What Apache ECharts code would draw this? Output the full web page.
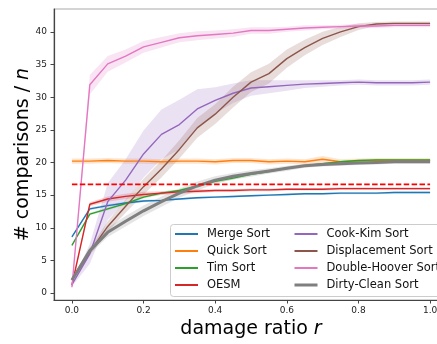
<!DOCTYPE html>
<html><head><meta charset="utf-8">
<script src="https://cdn.jsdelivr.net/npm/echarts@6/dist/echarts.min.js"></script>
<style>html,body{margin:0;padding:0;background:#fff;overflow:hidden;width:437px;height:344px}#c{width:450px;height:344px}</style>
</head><body><div id="c"></div>
<script>
const ratios = [0, 0.05, 0.1, 0.15, 0.2, 0.25, 0.3, 0.35, 0.4, 0.45, 0.5, 0.55, 0.6, 0.65, 0.7, 0.75, 0.8, 0.85, 0.9, 0.95, 1.0];

const mergeSort       = [8.6, 12.9, 13.4, 13.8, 14.1, 14.2, 14.4, 14.6, 14.7, 14.8, 14.9, 15.0, 15.1, 15.2, 15.2, 15.3, 15.3, 15.3, 15.4, 15.4, 15.4];
const quickSort       = [20.2, 20.2, 20.3, 20.2, 20.2, 20.1, 20.2, 20.2, 20.1, 20.3, 20.3, 20.1, 20.2, 20.1, 20.5, 20.1, 20.2, 20.3, 20.3, 20.3, 20.3];
const timSort         = [7.3, 12.1, 12.9, 13.7, 14.7, 15.3, 15.7, 16.4, 17.1, 17.6, 18.2, 18.6, 19.1, 19.5, 19.8, 20.1, 20.3, 20.4, 20.4, 20.4, 20.4];
const oesm            = [1.2, 13.6, 14.4, 14.8, 15.1, 15.3, 15.5, 15.6, 15.7, 15.7, 15.8, 15.8, 15.9, 15.9, 15.9, 16.0, 16.0, 16.0, 16.0, 16.0, 16.0];
const cookKimSort     = [1.3, 6.0, 14.0, 17.3, 21.3, 24.3, 25.8, 28.2, 29.5, 30.6, 31.4, 31.6, 31.8, 32.0, 32.1, 32.2, 32.3, 32.2, 32.2, 32.2, 32.3];
const displacementSort= [2.0, 6.3, 10.2, 13.3, 16.3, 19.0, 22.0, 25.3, 27.4, 30.0, 32.3, 33.6, 35.9, 37.6, 39.0, 40.0, 40.8, 41.2, 41.3, 41.3, 41.3];
const doubleHooverSort= [0.9, 31.9, 35.1, 36.3, 37.7, 38.4, 39.1, 39.4, 39.6, 39.8, 40.2, 40.2, 40.4, 40.6, 40.7, 40.8, 40.9, 40.9, 41.0, 41.0, 41.0];
const dirtyCleanSort  = [2.0, 6.5, 9.3, 11.0, 12.6, 14.0, 15.3, 16.4, 17.3, 17.9, 18.3, 18.7, 19.1, 19.5, 19.7, 19.8, 19.9, 20.0, 20.1, 20.1, 20.1];

const mergeStd        = [0.15,0.2,0.2,0.2,0.2,0.15,0.15,0.15,0.15,0.15,0.15,0.15,0.15,0.15,0.15,0.15,0.15,0.15,0.15,0.15,0.15];
const quickStd        = [0.4,0.4,0.4,0.4,0.4,0.4,0.4,0.4,0.4,0.4,0.4,0.4,0.4,0.4,0.5,0.4,0.4,0.4,0.4,0.4,0.4];
const timStd          = [0.15,0.2,0.2,0.2,0.2,0.2,0.2,0.2,0.2,0.2,0.2,0.2,0.2,0.15,0.15,0.15,0.15,0.15,0.15,0.15,0.15];
const oesmStd         = [0.2,0.3,0.4,0.4,0.4,0.3,0.3,0.3,0.2,0.2,0.2,0.2,0.2,0.2,0.2,0.2,0.2,0.2,0.2,0.2,0.2];
const cookKimStd      = [0.3,1.5,2.8,3.2,3.6,3.8,3.8,3.0,2.0,1.5,1.2,1.0,0.8,0.6,0.5,0.4,0.4,0.4,0.4,0.4,0.4];
const displacementStd = [0.2,0.5,0.8,1.0,1.2,1.3,1.4,1.5,1.5,1.6,1.5,1.5,1.4,1.2,1.0,0.8,0.5,0.3,0.3,0.3,0.3];
const doubleHooverStd = [0.2,1.5,1.2,1.0,0.9,0.8,0.7,0.7,0.6,0.6,0.5,0.5,0.4,0.4,0.3,0.3,0.3,0.3,0.3,0.3,0.3];
const dirtyCleanStd   = [0.2,0.5,0.7,0.8,0.8,0.8,0.7,0.7,0.6,0.5,0.5,0.4,0.4,0.3,0.3,0.3,0.3,0.3,0.3,0.3,0.3];

const baselineValue = 16.65;
const baselineRange = [0, 1.0];

const yTicks = [0, 5, 10, 15, 20, 25, 30, 35, 40];
const xTicks = [0, 0.2, 0.4, 0.6, 0.8, 1.0];

const names = ['Merge Sort','Quick Sort','Tim Sort','OESM','Cook-Kim Sort','Displacement Sort','Double-Hoover Sort','Dirty-Clean Sort'];
const means = [mergeSort, quickSort, timSort, oesm, cookKimSort, displacementSort, doubleHooverSort, dirtyCleanSort];
const stds = [mergeStd, quickStd, timStd, oesmStd, cookKimStd, displacementStd, doubleHooverStd, dirtyCleanStd];
const colors = ['#1f77b4','#ff7f0e','#2ca02c','#d62728','#9467bd','#8c564b','#e377c2','#7f7f7f'];
const widths = [1.4,1.4,1.4,1.4,1.4,1.4,1.4,3];

const FONT = 'DejaVu Sans';
const series = [];
names.forEach((n, k) => {
  const m = means[k], s = stds[k];
  series.push({
    type: 'custom', silent: true, z: 1,
    data: [[ratios[0], m[0]]],
    renderItem: function (params, api) {
      const pts = [];
      for (let i = 0; i < ratios.length; i++) pts.push(api.coord([ratios[i], m[i] + s[i]]));
      for (let i = ratios.length - 1; i >= 0; i--) pts.push(api.coord([ratios[i], m[i] - s[i]]));
      return { type: 'polygon', shape: { points: pts }, style: { fill: colors[k], opacity: 0.2 } };
    }
  });
});
names.forEach((n, k) => {
  series.push({
    name: n, type: 'line', z: 2 + k * 0.01,
    data: ratios.map((r, i) => [r, means[k][i]]),
    symbol: 'none', color: colors[k],
    lineStyle: { color: colors[k], width: widths[k] }
  });
});
series.push({
  name: 'baseline', type: 'line', z: 3, symbol: 'none',
  data: baselineRange.map(r => [r, baselineValue]),
  lineStyle: { color: '#ff0000', width: 1.6, type: [5.5, 2.4] }
});

const legendCommon = {
  orient: 'vertical', top: 227, padding: 0, itemWidth: 23, itemHeight: 14, itemGap: 3,
  textStyle: { fontFamily: FONT, fontSize: 11.5, color: '#111', padding: [0, 0, 0, 4], lineHeight: 14 },
  itemStyle: { opacity: 0 }
};

const chart = echarts.init(document.getElementById('c'), null, { renderer: 'canvas' });
chart.setOption({
  animation: false,
  backgroundColor: '#fff',
  grid: { left: 54, top: 9, right: 2, bottom: 42, show: true, borderColor: '#aaa', borderWidth: 1.2, backgroundColor: 'transparent' },
  xAxis: {
    type: 'value', min: -0.05, max: 1.05,
    name: 'damage ratio {i|r}', nameLocation: 'middle', nameGap: 20, nameMoveOverlap: false,
    nameTextStyle: { fontFamily: FONT, fontSize: 19, color: '#000', rich: { i: { fontFamily: FONT, fontSize: 19, fontStyle: 'italic', color: '#000' } } },
    axisLine: { onZero: false, lineStyle: { color: '#444', width: 1.2 } },
    axisTick: { length: 3.5, lineStyle: { color: '#444' }, customValues: xTicks },
    axisLabel: { fontFamily: FONT, fontSize: 9, color: '#222', margin: 6, customValues: xTicks, formatter: v => v.toFixed(1) },
    splitLine: { show: false }
  },
  yAxis: {
    type: 'value', min: -1.06, max: 43.5,
    name: '# comparisons / {i|n}', nameLocation: 'middle', nameGap: 21, nameMoveOverlap: false,
    nameTextStyle: { fontFamily: FONT, fontSize: 19, color: '#000', rich: { i: { fontFamily: FONT, fontSize: 19, fontStyle: 'italic', color: '#000' } } },
    axisLine: { show: true, onZero: false, lineStyle: { color: '#444', width: 1.2 } },
    axisTick: { show: true, length: 3.5, lineStyle: { color: '#444' }, customValues: yTicks },
    axisLabel: { fontFamily: FONT, fontSize: 9, color: '#222', margin: 7, customValues: yTicks },
    splitLine: { show: false }
  },
  legend: [
    Object.assign({}, legendCommon, { left: 174, data: names.slice(0, 4) }),
    Object.assign({}, legendCommon, { left: 293, data: names.slice(4, 7).concat([{ name: 'Dirty-Clean Sort', lineStyle: { width: 3 } }]) })
  ],
  graphic: [{
    type: 'rect', z: 3, silent: true,
    shape: { x: 170.5, y: 224.5, width: 300, height: 72, r: 3 },
    style: { fill: 'rgba(255,255,255,0.85)', stroke: '#ccc', lineWidth: 1 }
  }],
  series: series
});
</script>
</body></html>
